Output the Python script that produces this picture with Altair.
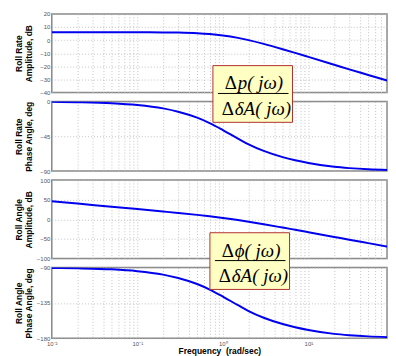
import altair as alt
import pandas as pd

# ---- data ----
freq = [0.01, 0.02, 0.05, 0.1, 0.2, 0.3, 0.5, 0.7, 1, 1.5, 2, 3, 5, 7, 10, 20, 30, 50, 100]
rate_mag = [6.0, 6.0, 6.0, 5.97, 5.87, 5.71, 5.25, 4.63, 3.55, 1.69, -0.05, -2.92, -6.99, -9.8, -12.84, -18.82, -22.34, -26.6, -32.4]
rate_phase = [-0.5, -1.0, -2.3, -4.6, -9.0, -13.3, -21.0, -28.0, -37.0, -48.0, -55.5, -64.0, -72.0, -76.0, -79.5, -84.5, -86.2, -87.7, -88.9]
angle_mag = [46.0, 40.0, 32.0, 26.0, 19.85, 16.2, 11.3, 7.7, 3.55, -1.8, -6.1, -12.5, -21.0, -26.7, -32.8, -44.8, -51.9, -60.6, -72.4]
angle_phase = [-90.5, -91.0, -92.3, -94.6, -99.0, -103.3, -111.0, -118.0, -127.0, -138.0, -145.5, -154.0, -162.0, -166.0, -169.5, -174.5, -176.2, -177.7, -178.9]

panel_titles = [["Roll Rate", "Amplitude, dB"], ["Roll Rate", "Phase Angle, deg"],
                ["Roll Angle", "Amplitude, dB"], ["Roll Angle", "Phase Angle, deg"]]
y_domains = [[-40, 20], [-90, 0], [-100, 100], [-180, -90]]
y_ticks = [[-40, -30, -20, -10, 0, 10, 20], [-90, -45, 0], [-100, -50, 0, 50, 100], [-180, -135, -90]]
heights = [79, 70, 79, 71]
x_ticks = [round(k * 10 ** e, 6) for e in range(-2, 2) for k in range(1, 10)] + [100]

df = pd.DataFrame({"freq": freq, "rate_mag": rate_mag, "rate_phase": rate_phase,
                   "angle_mag": angle_mag, "angle_phase": angle_phase})
cols = ["rate_mag", "rate_phase", "angle_mag", "angle_phase"]

W = 337
xscale = alt.Scale(type="log", domain=[0.01, 82.9], nice=False)
label_expr = ("datum.value == 0.01 ? '10\u207b\u00b2' : datum.value == 0.1 ? '10\u207b\u00b9' : "
              "datum.value == 1 ? '10\u2070' : datum.value == 10 ? '10\u00b9' : ''")

one = pd.DataFrame({"a": [0]})

GRID = dict(grid=True, gridDash=[1, 2], gridColor="#b4b4b4", gridWidth=0.8)


def box_layers(x0, y0, num_left, num_right, den_left, den_right, split_n, split_d):
    rect = alt.Chart(one).mark_rect(fill="#ffffc4", stroke="#b03030", strokeWidth=1).encode(
        x=alt.value(x0), x2=alt.value(x0 + 80), y=alt.value(y0), y2=alt.value(y0 + 57))
    rule = alt.Chart(one).mark_rule(color="black", strokeWidth=1).encode(
        x=alt.value(x0 + 5), x2=alt.value(x0 + 76), y=alt.value(y0 + 28))
    fs = 19
    t1 = alt.Chart(one).mark_text(text=num_left, font="Liberation Serif", fontSize=fs,
                                  align="right", baseline="alphabetic", color="black").encode(
        x=alt.value(x0 + split_n), y=alt.value(y0 + 24))
    t2 = alt.Chart(one).mark_text(text=num_right, font="Liberation Serif", fontSize=fs, fontStyle="italic",
                                  align="left", baseline="alphabetic", color="black").encode(
        x=alt.value(x0 + split_n + 1), y=alt.value(y0 + 24))
    t3 = alt.Chart(one).mark_text(text=den_left, font="Liberation Serif", fontSize=fs,
                                  align="right", baseline="alphabetic", color="black").encode(
        x=alt.value(x0 + split_d), y=alt.value(y0 + 50))
    t4 = alt.Chart(one).mark_text(text=den_right, font="Liberation Serif", fontSize=fs, fontStyle="italic",
                                  align="left", baseline="alphabetic", color="black").encode(
        x=alt.value(x0 + split_d + 1), y=alt.value(y0 + 50))
    return [rect, rule, t1, t2, t3, t4]


panels = []
for i in range(4):
    bottom = i == 3
    if bottom:
        xaxis = alt.Axis(values=x_ticks, labelExpr=label_expr, ticks=False, domain=False,
                         labelFontSize=6, labelColor="#555", labelFont="Liberation Sans",
                         labelPadding=2, labelFlush=False, labelOverlap=False,
                         title="Frequency\u00a0\u00a0(rad/sec)", titleFontSize=8.5,
                         titleFont="Liberation Sans", titleFontWeight="bold", titleColor="black",
                         titlePadding=0, **GRID)
    else:
        xaxis = alt.Axis(values=x_ticks, labels=False, ticks=False, domain=False, title=None, **GRID)
    yaxis = alt.Axis(values=y_ticks[i], ticks=False, domain=False, labelFontSize=6, labelColor="#555",
                     labelFont="Liberation Sans", labelPadding=2, labelFlush=False,
                     title=panel_titles[i], titleFontSize=8.5, titleFont="Liberation Sans",
                     titleFontWeight="bold", titleColor="black", titleX=-28,
                     titleBaseline="bottom", titleLineHeight=9.5, **GRID)
    line = alt.Chart(df).mark_line(color="#0000ee", strokeWidth=2, clip=True,
                                   interpolate="monotone").encode(
        x=alt.X("freq:Q", scale=xscale, axis=xaxis),
        y=alt.Y(cols[i] + ":Q", scale=alt.Scale(domain=y_domains[i], nice=False, zero=False),
                axis=yaxis))
    layers = [line]
    if i == 1:
        layers += box_layers(162, -36, "\u0394", "p( j\u03c9)", "\u0394", "\u03b4A( j\u03c9)", 24, 21)
    if i == 3:
        layers += box_layers(159, -35, "\u0394", "\u03d5( j\u03c9)", "\u0394", "\u03b4A( j\u03c9)", 24, 21)
    panels.append(alt.layer(*layers).properties(width=W, height=heights[i]))

chart = alt.vconcat(*panels, spacing=9, bounds="flush").configure_view(
    stroke="#888", strokeWidth=1.5).properties(
    padding={"left": 6, "top": 1, "right": 0, "bottom": 0})

chart.save("out.html", embed_options={"renderer": "svg", "actions": False})
